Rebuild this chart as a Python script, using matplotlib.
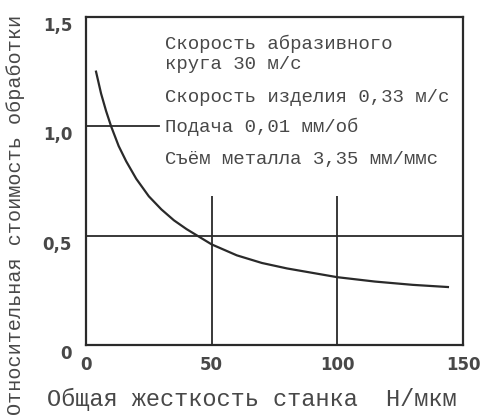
import matplotlib.pyplot as plt

# общая жесткость станка, Н/мкм
stiffness = [4, 6, 8, 10, 13, 16, 20, 25, 30, 35, 40, 45, 50, 60, 70, 80, 90, 100, 115, 130, 144]
# относительная стоимость обработки
cost = [1.25, 1.15, 1.07, 1.0, 0.91, 0.84, 0.76, 0.68, 0.62, 0.57, 0.53, 0.495, 0.46, 0.41, 0.375, 0.35, 0.33, 0.31, 0.29, 0.275, 0.265]

x_ticks = [0, 50, 100, 150]
x_tick_labels = ['0', '50', '100', '150']
y_ticks = [0, 0.5, 1.0, 1.5]
y_tick_labels = ['0', '0,5', '1,0', '1,5']

notes = ['Скорость абразивного\nкруга 30 м/с',
         'Скорость изделия 0,33 м/с',
         'Подача 0,01 мм/об',
         'Съём металла 3,35 мм/ммс']
note_y = [1.33, 1.134, 0.997, 0.846]

line_color = '#2a2a2a'
text_color = '#484848'

fig = plt.figure(figsize=(4.83, 4.20), dpi=100)
ax = fig.add_axes([0.178, 0.1786, 0.7806, 0.781])

ax.plot(stiffness, cost, color=line_color, lw=1.6)
ax.axhline(0.5, color=line_color, lw=1.3)
ax.plot([0, 29], [1.0, 1.0], color=line_color, lw=1.3)
ax.vlines([50, 100], 0, 0.68, color=line_color, lw=1.3)

ax.set_xlim(0, 150)
ax.set_ylim(0, 1.5)
for s in ax.spines.values():
    s.set_linewidth(1.6)
    s.set_color(line_color)

ax.set_xticks(x_ticks)
ax.set_xticklabels(x_tick_labels, fontsize=12, fontweight='bold', color=text_color)
ax.set_yticks(y_ticks)
ax.set_yticklabels(y_tick_labels, fontsize=12, fontweight='bold', color=text_color)
ax.tick_params(length=0, pad=8)
ax.tick_params(axis='y', pad=10)
for lbl in ax.get_yticklabels():
    lbl.set_va('top')

for t, y in zip(notes, note_y):
    ax.text(31.5, y, t, fontsize=13.7, family='Liberation Mono', color=text_color,
            va='center', ha='left', linespacing=1.2)

fig.text(0.097, 0.022, 'Общая жесткость станка  Н/мкм', fontsize=17,
         family='Liberation Mono', color=text_color, ha='left', va='bottom')
fig.text(0.032, 0.012, 'Относительная стоимость обработки', fontsize=14.5,
         family='Liberation Mono', color=text_color, ha='left', va='center',
         rotation=90, rotation_mode='anchor')

fig.savefig('out.png', dpi=100)
